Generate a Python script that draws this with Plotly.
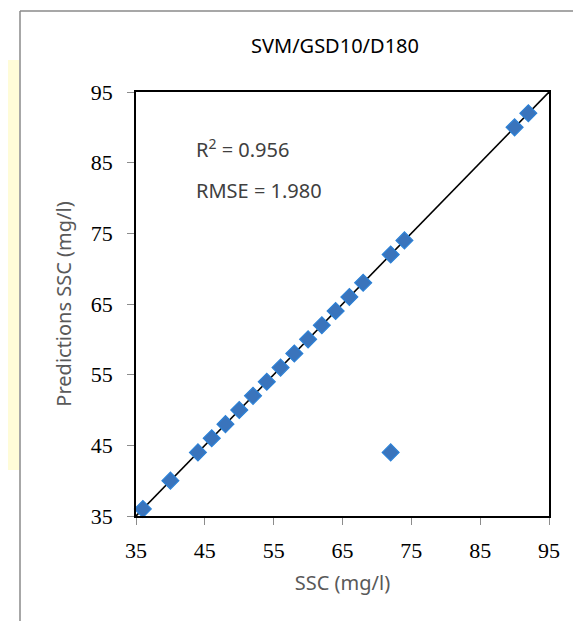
import plotly.graph_objects as go

# Data
ssc_observed = [36, 40, 44, 46, 48, 50, 52, 54, 56, 58, 60, 62, 64, 66, 68, 72, 74, 90, 92, 72]
ssc_predicted = [36, 40, 44, 46, 48, 50, 52, 54, 56, 58, 60, 62, 64, 66, 68, 72, 74, 90, 92, 44]
line_x = [35, 95]
line_y = [35, 95]
tick_vals = [35, 45, 55, 65, 75, 85, 95]
title_text = "SVM/GSD10/D180"
r2_text = "R<sup>2</sup> = 0.956"
rmse_text = "RMSE = 1.980"

# page body has an 8px margin; compensate
OFF = 8
W, H = 581, 621
L, R, T, B = 136 - OFF, 549 - OFF, 92 - OFF, 516 - OFF

def px(x):
    return (x - OFF - L) / (R - L)

def py(y):
    return (B - (y - OFF)) / (B - T)

fig = go.Figure()
fig.add_trace(go.Scatter(x=line_x, y=line_y, mode="lines",
                         line=dict(color="black", width=1.6), showlegend=False, hoverinfo="skip"))
fig.add_trace(go.Scatter(x=ssc_observed, y=ssc_predicted, mode="markers",
                         marker=dict(symbol="diamond", size=13, color="#3A74BC",
                                     line=dict(color="#2B80D6", width=1.2)),
                         showlegend=False, cliponaxis=False))

axis_common = dict(range=[35, 95], tickvals=tick_vals, ticks="outside", ticklen=7,
                   tickcolor="#8c8c8c", showgrid=False, zeroline=False,
                   showline=True, linecolor="black", linewidth=1.5, mirror=True,
                   tickfont=dict(family="Liberation Serif", size=22, color="black"))

title_font = dict(family="Noto Sans", size=20, color="#595959")

fig.update_layout(
    width=W, height=H,
    margin=dict(l=L, r=W - R, t=T, b=H - B),
    paper_bgcolor="white", plot_bgcolor="white",
    title=dict(text=title_text, x=(335 - OFF) / W, xanchor="center", y=1 - (46 - OFF) / H, yanchor="middle",
               font=dict(family="Noto Sans", size=20, color="black")),
    xaxis=dict(**axis_common, ticklabelstandoff=7,
               title=dict(text="SSC (mg/l)", standoff=14, font=title_font)),
    yaxis=dict(**axis_common, ticklabelstandoff=10,
               title=dict(text="Predictions SSC (mg/l)", standoff=14, font=title_font)),
    annotations=[
        dict(text=r2_text, x=px(194), y=py(148), xref="paper", yref="paper",
             xanchor="left", yanchor="middle", showarrow=False,
             font=dict(family="Noto Sans", size=20, color="#404040")),
        dict(text=rmse_text, x=px(194), y=py(190), xref="paper", yref="paper",
             xanchor="left", yanchor="middle", showarrow=False,
             font=dict(family="Noto Sans", size=20, color="#404040")),
    ],
    shapes=[
        dict(type="rect", xref="paper", yref="paper", x0=px(0), x1=px(19), y0=py(470), y1=py(60),
             fillcolor="#FFFCD8", line=dict(width=0), layer="below"),
        dict(type="line", xref="paper", yref="paper", x0=px(20), x1=px(20), y0=py(640), y1=py(11),
             line=dict(color="#8a8a8a", width=1.5)),
        dict(type="line", xref="paper", yref="paper", x0=px(20), x1=px(600), y0=py(11), y1=py(11),
             line=dict(color="#8a8a8a", width=1.5)),
    ],
)

fig.write_html("out.html")
